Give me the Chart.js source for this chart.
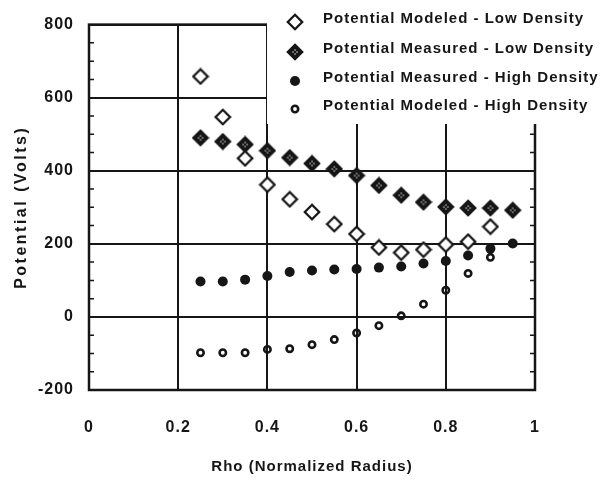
<!DOCTYPE html>
<html>
<head>
<meta charset="utf-8">
<script src="https://cdn.jsdelivr.net/npm/chart.js@4.4.0/dist/chart.umd.min.js"></script>
<style>
  html, body { margin: 0; padding: 0; background: #fff; }
  #wrap { width: 600px; height: 481px; }
</style>
</head>
<body>
<div id="wrap"><canvas id="myChart"></canvas></div>
<script>
// values (Volts vs normalized radius)
const rho = [0.25, 0.3, 0.35, 0.4, 0.45, 0.5, 0.55, 0.6, 0.65, 0.7, 0.75, 0.8, 0.85, 0.9, 0.95];
const modeledLow = [658, 547, 434, 362, 322, 287, 254, 227, 190, 176, 184, 198, 206, 247];
const measuredLow = [490, 480, 472, 455, 436, 420, 405, 387, 360, 333, 314, 301, 298, 298, 292];
const measuredHigh = [97, 97, 102, 112, 123, 127, 130, 131, 135, 138, 146, 153, 168, 187, 201];
const modeledHigh = [-98, -98, -98, -89, -87, -76, -62, -44, -24, 3, 35, 73, 119, 163];
const seriesNames = [
    'Potential Modeled - Low Density',
    'Potential Measured - Low Density',
    'Potential Measured - High Density',
    'Potential Modeled - High Density'
];
const xTicks = ['0', '0.2', '0.4', '0.6', '0.8', '1'];
const yTicks = ['-200', '0', '200', '400', '600', '800'];
const xTitle = 'Rho (Normalized Radius)';
const yTitle = 'Potential (Volts)';

const INK = '#161616';
const FONT = '"Liberation Sans", Arial, sans-serif';

function toPoints(values) {
    return values.map((v, i) => ({ x: rho[i], y: v }));
}

// diamond markers drawn once onto small canvases
function makeDiamond(filled) {
    const c = document.createElement('canvas');
    c.width = 18; c.height = 18;
    const g = c.getContext('2d');
    const m = 9, r = 7.2;
    g.beginPath();
    g.moveTo(m, m - r); g.lineTo(m + r, m); g.lineTo(m, m + r); g.lineTo(m - r, m); g.closePath();
    g.fillStyle = filled ? INK : '#fff';
    g.fill();
    g.lineWidth = 2.3;
    g.strokeStyle = INK;
    g.stroke();
    if (filled) {
        g.fillStyle = '#d8d8d8';
        [[0, -2], [-2, 0], [2, 0], [0, 2]].forEach(([dx, dy]) => g.fillRect(m + dx - 0.6, m + dy - 0.6, 1.3, 1.3));
    }
    return c;
}
const openDiamond = makeDiamond(false);
const solidDiamond = makeDiamond(true);

function drawCircle(ctx, x, y, open) {
    ctx.beginPath();
    if (open) {
        ctx.arc(x, y, 3.2, 0, Math.PI * 2);
        ctx.lineWidth = 2.6;
        ctx.strokeStyle = INK;
        ctx.stroke();
    } else {
        ctx.arc(x, y, 5, 0, Math.PI * 2);
        ctx.fillStyle = INK;
        ctx.fill();
    }
}

const framePlugin = {
    id: 'frame',
    beforeLayout(chart) { chart.ctx.letterSpacing = '1px'; },
    beforeDraw(chart) { chart.ctx.letterSpacing = '1px'; },
    beforeDatasetsDraw(chart) {
        const { ctx, chartArea: a, scales: { y } } = chart;
        ctx.save();
        ctx.strokeStyle = INK;
        ctx.lineWidth = 2.5;
        ctx.strokeRect(a.left, a.top, a.right - a.left, a.bottom - a.top);
        // small inward ticks every 50 V on both sides
        ctx.lineWidth = 1.5;
        for (let v = -150; v < 800; v += 50) {
            if (v % 200 === 0) continue;
            const py = y.getPixelForValue(v);
            ctx.beginPath();
            ctx.moveTo(a.left, py); ctx.lineTo(a.left + 5, py);
            ctx.moveTo(a.right, py); ctx.lineTo(a.right - 5, py);
            ctx.stroke();
        }
        ctx.restore();
    },
    afterDatasetsDraw(chart) {
        const { ctx, chartArea: a } = chart;
        ctx.save();
        // legend sits on a white patch over the top right of the grid
        ctx.fillStyle = '#fff';
        ctx.fillRect(267, 0, 600 - 267, 124);
        const rows = [22, 52, 81, 109];
        ctx.drawImage(openDiamond, 295 - 9, rows[0] - 9);
        ctx.drawImage(solidDiamond, 295 - 9, rows[1] - 9);
        drawCircle(ctx, 295, rows[2], false);
        drawCircle(ctx, 295, rows[3], true);
        ctx.fillStyle = INK;
        ctx.font = 'bold 15px ' + FONT;
        ctx.letterSpacing = '1px';
        ctx.textAlign = 'left';
        ctx.textBaseline = 'middle';
        seriesNames.forEach((name, i) => ctx.fillText(name, 323, rows[i] - 3));

        // axis titles
        ctx.font = 'bold 15px ' + FONT;
        ctx.textAlign = 'center';
        ctx.fillText(xTitle, (a.left + a.right) / 2, 467);
        ctx.font = 'bold 16px ' + FONT;
        ctx.letterSpacing = '2.5px';
        ctx.translate(22, (a.top + a.bottom) / 2);
        ctx.rotate(-Math.PI / 2);
        ctx.fillText(yTitle, 0, 0);
        ctx.restore();
    }
};

const ctx = document.getElementById('myChart').getContext('2d');

const data = {
    datasets: [{
        label: seriesNames[0],
        data: toPoints(modeledLow),
        pointStyle: openDiamond
    }, {
        label: seriesNames[1],
        data: toPoints(measuredLow),
        pointStyle: solidDiamond
    }, {
        label: seriesNames[2],
        data: toPoints(measuredHigh),
        pointStyle: 'circle',
        pointRadius: 5,
        pointBorderWidth: 0,
        pointBackgroundColor: INK
    }, {
        label: seriesNames[3],
        data: toPoints(modeledHigh),
        pointStyle: 'circle',
        pointRadius: 3.2,
        pointBorderWidth: 2.6,
        pointBorderColor: INK,
        pointBackgroundColor: 'rgba(0,0,0,0)'
    }]
};

const tickFont = { family: FONT, size: 16, weight: 'bold' };

const config = {
    type: 'scatter',
    data: data,
    options: {
        responsive: false,
        animation: false,
        layout: { padding: { top: 20, right: 65, left: 0, bottom: 0 } },
        plugins: { legend: { display: false }, tooltip: { enabled: false } },
        scales: {
            x: {
                type: 'linear', min: 0, max: 1,
                afterFit: (s) => { s.height = 91; },
                afterBuildTicks: (s) => { s.ticks = xTicks.map(t => ({ value: +t })); },
                grid: { color: INK, lineWidth: 2, drawTicks: false },
                border: { display: false },
                ticks: { color: INK, font: tickFont, padding: 28, maxRotation: 0,
                    callback: (v, i) => xTicks[i] }
            },
            y: {
                type: 'linear', min: -200, max: 800,
                afterFit: (s) => { s.width = 89; },
                afterBuildTicks: (s) => { s.ticks = yTicks.map(t => ({ value: +t })); },
                grid: { color: INK, lineWidth: 2, drawTicks: false },
                border: { display: false },
                ticks: { color: INK, font: tickFont, padding: 15,
                    callback: (v, i) => yTicks[i] }
            }
        }
    },
    plugins: [framePlugin]
};

const canvas = document.getElementById('myChart');
canvas.width = 600;
canvas.height = 481;
const myChart = new Chart(ctx, config);
</script>
</body>
</html>
